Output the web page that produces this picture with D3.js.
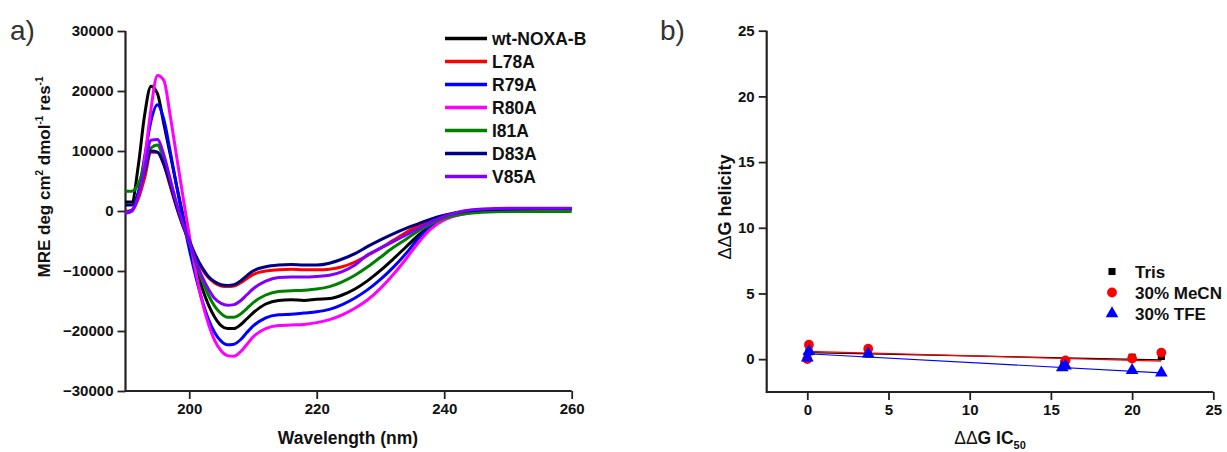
<!DOCTYPE html>
<html><head><meta charset="utf-8">
<script src="https://cdn.jsdelivr.net/npm/d3@7"></script>
<style>
body{margin:0;background:#fff;}
svg{display:block;font-family:"Liberation Sans",Arial,sans-serif;}
.axis text{font-weight:bold;font-size:15px;fill:#111;}
.axis path,.axis line{stroke:#222;}
</style></head>
<body><svg id="c" width="1227" height="452"></svg>
<script>
// ---- Panel a data: CD spectra (MRE) ----
const wavelengths = [190,191,192,193,194,195,196,197,198,199,200,201,202,203,204,205,206,207,208,209,210,212,214,216,218,220,222,224,226,228,230,232,234,236,238,240,243,246,250,255,260];
const seriesNames = ["wt-NOXA-B","L78A","R79A","R80A","I81A","D83A","V85A"];
const seriesColors = ["#000000","#ff0000","#0000ff","#ff00ff","#008000","#000080","#8000ff"];
const wtNOXAB = [1500,1500,7500,16000,20800,19600,14600,9500,4300,-600,-5200,-9300,-12800,-15600,-17700,-19100,-19600,-19600,-19000,-18000,-17000,-15500,-14900,-14800,-14900,-14700,-14600,-14000,-13000,-11600,-9900,-8000,-6000,-4000,-2400,-1200,-300,100,300,300,300];
const L78A = [-100,150,2000,5500,9800,9800,7800,4200,600,-2500,-5100,-7600,-9600,-11100,-12000,-12500,-12600,-12500,-12000,-11300,-10600,-10000,-9800,-9700,-9800,-9800,-9700,-9300,-8500,-7400,-6200,-4900,-3600,-2400,-1500,-800,-200,100,300,300,300];
const R79A = [-200,100,3000,9000,15000,17700,15300,10000,4300,-1300,-6300,-10800,-14800,-18000,-20300,-21700,-22300,-22200,-21500,-20300,-19200,-17800,-17300,-17200,-17000,-16800,-16400,-15600,-14500,-13100,-11400,-9400,-7100,-4500,-2500,-1300,-400,0,200,250,250];
const R80A = [-300,0,2500,8500,17000,22600,21800,16000,9200,2500,-4000,-10000,-15000,-18800,-21600,-23300,-24100,-24200,-23500,-22300,-21000,-19600,-19100,-19000,-18900,-18600,-18100,-17300,-16200,-14800,-12900,-10600,-8000,-5200,-2900,-1500,-500,0,200,250,250];
const I81A = [3300,3300,4500,7500,10500,11000,8600,4800,1000,-2400,-5200,-8500,-11500,-14000,-15900,-17100,-17700,-17700,-17200,-16300,-15300,-14000,-13400,-13300,-13200,-13000,-12600,-11800,-10700,-9300,-7700,-6100,-4700,-3300,-2100,-1200,-500,-200,-100,-100,-100];
const D83A = [1000,1000,3000,6500,10000,9800,7800,4500,800,-2300,-4900,-7400,-9400,-10900,-11800,-12300,-12400,-12300,-11700,-10800,-10000,-9300,-9000,-8900,-9000,-9000,-8700,-8000,-7100,-5900,-4800,-3800,-2900,-2100,-1300,-700,-100,200,350,400,400];
const V85A = [-400,0,2500,7000,11800,11900,9400,5400,1300,-2100,-5100,-8200,-10900,-13000,-14600,-15400,-15700,-15600,-15000,-14000,-13000,-11700,-11100,-11000,-11000,-10900,-10700,-10100,-9000,-7300,-6200,-5100,-4000,-2900,-1800,-900,0,350,450,450,450];
const spectra = [wtNOXAB,L78A,R79A,R80A,I81A,D83A,V85A];
const yTicksA = [-30000,-20000,-10000,0,10000,20000,30000];
const yMinorA = [-25000,-15000,-5000,5000,15000,25000];
const xTicksA = [200,220,240,260];
const xMinorA = [190,210,230,250];

// ---- Panel b data ----
const condNames = ["Tris","30% MeCN","30% TFE"];
const condColors = ["#000000","#ff0000","#0000ff"];
const trisX = [0,0.1,3.75,15.8,20,21.8];
const trisY = [0.25,0.55,0.4,-0.35,0.15,0.2];
const mecnX = [0,0.1,3.75,15.9,20,21.8];
const mecnY = [0.0,1.1,0.8,-0.1,0.05,0.5];
const tfeX = [0,0.1,3.75,15.7,15.9,20,21.8];
const tfeY = [0.1,0.6,0.4,-0.65,-0.5,-0.85,-1.05];
const fitX = [0,21.8];
const fitTris = [0.49,-0.05];
const fitMeCN = [0.59,-0.15];
const fitTFE = [0.41,-1.04];
const ticksB = [0,5,10,15,20,25];
const minorB = [-2.5,2.5,7.5,12.5,17.5,22.5];

const svg = d3.select("#c");

// ===== Panel a =====
const xA = d3.scaleLinear().domain([190,260]).range([125.5,571.7]);
const yA = d3.scaleLinear().domain([-30000,30000]).range([391,31]);

function drawAxes(g, x, y, xt, xm, yt, ym, fmtY){
  const x0 = x.range()[0], x1 = x.range()[1], y0 = y.range()[0], y1 = y.range()[1];
  const gy = g.append("g").attr("class","axis").attr("transform",`translate(${x0},0)`);
  gy.call(d3.axisLeft(y).tickValues(ym).tickSize(4).tickSizeOuter(0).tickFormat(""));
  gy.call(d3.axisLeft(y).tickValues(yt).tickSize(8).tickSizeOuter(0).tickPadding(4).tickFormat(fmtY));
  gy.selectAll("line").attr("stroke-width",1.8);
  const gx = g.append("g").attr("class","axis").attr("transform",`translate(0,${y0})`);
  gx.call(d3.axisBottom(x).tickValues(xm).tickSize(4).tickSizeOuter(0).tickFormat(""));
  gx.call(d3.axisBottom(x).tickValues(xt).tickSize(8).tickSizeOuter(0).tickPadding(4).tickFormat(d3.format("d")));
  gx.selectAll("line").attr("stroke-width",1.8);
  gy.selectAll(".domain").remove();
  gx.selectAll(".domain").remove();
  g.append("path").attr("d",`M${x0},${y1}V${y0}H${x1}`).attr("fill","none")
    .attr("stroke","#222").attr("stroke-width",2.2);
}
const gA = svg.append("g");
drawAxes(gA, xA, yA, xTicksA, xMinorA, yTicksA, yMinorA, d3.format("d"));

const line = d3.line().x((d,i)=>xA(wavelengths[i])).y(d=>yA(d)).curve(d3.curveMonotoneX);
spectra.forEach((s,k)=>{
  gA.append("path").attr("d",line(s)).attr("fill","none")
    .attr("stroke",seriesColors[k]).attr("stroke-width",3).attr("stroke-linejoin","round");
});

// legend a
const legA = gA.append("g");
seriesNames.forEach((n,k)=>{
  const yy = 38.5 + k*23;
  legA.append("line").attr("x1",445).attr("x2",487).attr("y1",yy).attr("y2",yy)
    .attr("stroke",seriesColors[k]).attr("stroke-width",3.5);
  legA.append("text").attr("x",492).attr("y",yy+6.5).attr("font-weight","bold")
    .attr("font-size",17.5).attr("fill","#111").text(n);
});

// axis titles a
gA.append("text").attr("x",348).attr("y",444).attr("text-anchor","middle")
  .attr("font-weight","bold").attr("font-size",17.5).attr("fill","#111").text("Wavelength (nm)");
const yt = gA.append("text").attr("transform","translate(50,177) rotate(-90)").attr("text-anchor","middle")
  .attr("font-weight","bold").attr("font-size",17).attr("fill","#111");
yt.append("tspan").text("MRE deg cm");
yt.append("tspan").attr("font-size",10).attr("dy",-7).text("2");
yt.append("tspan").attr("dy",7).text(" dmol");
yt.append("tspan").attr("font-size",10).attr("dy",-7).text("-1");
yt.append("tspan").attr("dy",7).text(" res");
yt.append("tspan").attr("font-size",10).attr("dy",-7).text("-1");

svg.append("text").attr("x",10).attr("y",40).attr("font-size",28).attr("fill","#333").text("a)");
svg.append("text").attr("x",660).attr("y",40).attr("font-size",28).attr("fill","#333").text("b)");

// ===== Panel b =====
const xB = d3.scaleLinear().domain([-2.5,25]).range([766.7,1213.3]);
const yB = d3.scaleLinear().domain([-2.5,25]).range([392,30.7]);
const gB = svg.append("g");
drawAxes(gB, xB, yB, ticksB, minorB, ticksB, minorB, d3.format("d"));

const fits = [fitTris,fitMeCN,fitTFE];
const fitLine = d3.line().x((d,i)=>xB(fitX[i])).y(d=>yB(d));
fits.forEach((f,k)=>{
  gB.append("path").attr("d",fitLine(f)).attr("fill","none").attr("stroke",condColors[k]).attr("stroke-width",1.2);
});
const sym = [d3.symbolSquare, d3.symbolCircle, d3.symbolTriangle];
const symSize = [50, 75, 70];
const pts = [[trisX,trisY],[mecnX,mecnY],[tfeX,tfeY]];
pts.forEach(([xs,ys],k)=>{
  xs.forEach((xv,i)=>{
    gB.append("path").attr("d",d3.symbol(sym[k],symSize[k])())
      .attr("transform",`translate(${xB(xv)},${yB(ys[i])})`).attr("fill",condColors[k]);
  });
});
// legend b
condNames.forEach((n,k)=>{
  const yy = 271.5 + k*21;
  gB.append("path").attr("d",d3.symbol(sym[k],symSize[k])())
    .attr("transform",`translate(1112,${yy})`).attr("fill",condColors[k]);
  gB.append("text").attr("x",1135).attr("y",yy+6).attr("font-weight","bold")
    .attr("font-size",17).attr("fill","#111").text(n);
});
// axis titles b
gB.append("text").attr("x",990).attr("y",444).attr("text-anchor","middle").attr("font-size",17.5).attr("fill","#111")
  .call(t=>{
    t.append("tspan").attr("font-weight","normal").text("ΔΔ");
    t.append("tspan").attr("font-weight","bold").text("G IC");
    t.append("tspan").attr("font-weight","bold").attr("font-size",11).attr("dy",5).text("50");
  });
gB.append("text").attr("transform","translate(731,207) rotate(-90)").attr("text-anchor","middle")
  .attr("font-size",18).attr("fill","#111")
  .call(t=>{
    t.append("tspan").attr("font-weight","normal").text("ΔΔ");
    t.append("tspan").attr("font-weight","bold").text("G helicity");
  });
</script></body></html>
